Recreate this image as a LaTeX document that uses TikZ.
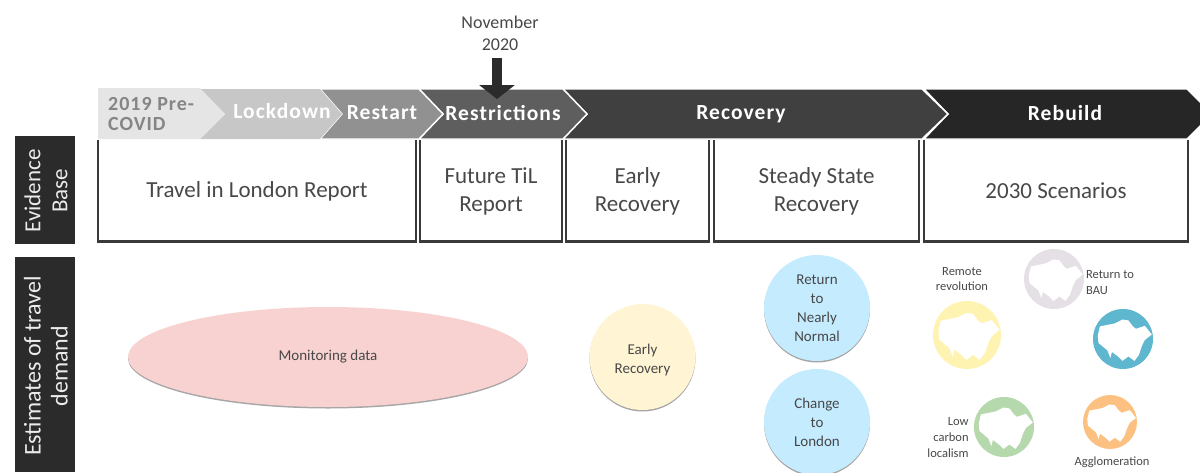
\documentclass[tikz,border=0pt]{standalone}
\usepackage{fontspec}
\setmainfont{Carlito}
\newfontfamily\chevfont[LetterSpace=5]{Carlito}
\usetikzlibrary{shapes.geometric,shadows,arrows.meta}
\definecolor{ink}{HTML}{3A3A3A}
\definecolor{soft}{HTML}{484848}
\definecolor{panel}{HTML}{2B2B2B}
\tikzset{
  x=1pt,y=-1pt,
  chev/.style={draw=white,line width=1.4pt,line join=miter},
  chevtext/.style={font=\chevfont\bfseries\fontsize{21.5}{22}\selectfont,text=white,inner sep=0pt},
  boxlabel/.style={font=\fontsize{23}{28}\selectfont,text=soft,align=center,inner sep=0pt},
  boxline/.style={draw=ink,line width=2.4pt,line cap=butt,line join=miter},
  sidepanel/.style={fill=panel,draw=none,inner sep=0pt},
  sidetext/.style={text=white!92!black,align=center,rotate=90,inner sep=0pt},
  softshadow/.style={general shadow={fill=black!35,shadow xshift=0pt,shadow yshift=-1.5pt}},
  bubble/.style={circle,minimum size=106pt,inner sep=0pt,align=center,font=\fontsize{15}{19}\selectfont,text=soft,softshadow},
  disc/.style={circle,inner sep=0pt},
  small/.style={font=\fontsize{12.5}{15.7}\selectfont,text=soft,inner sep=0pt},
}
\newcommand{\london}[3]{% centre x, centre y, radius
  \fill[white,shift={(#1,#2)},scale=#3]
   (-.77,-.42)--(-.52,-.47)--(-.27,-.52)--(-.02,-.65)--(.18,-.62)--(.33,-.42)--(.43,-.34)--(.73,-.44)--(.96,-.15)
   --(.73,.03)--(.63,.23)--(.53,.53)--(.38,.73)--(.18,.58)--(-.02,.73)--(-.17,.58)--(-.37,.43)--(-.42,.63)--(-.52,.38)--(-.82,.13)--(-.84,-.12)--cycle;
}
\begin{document}
\begin{tikzpicture}
\useasboundingbox (0,0) rectangle (1200,472);
\clip (0,0) rectangle (1200,472);
% chevrons
\path[chev,fill=black!85] (924,89)--(1187,89)--(1212,114)--(1187,139)--(924,139)--(948,114)--cycle;
\path[chev,fill=black!75] (563,89)--(922,89)--(948,114)--(922,139)--(563,139)--(587,114)--cycle;
\path[chev,fill=black!63] (419,89)--(563,89)--(587,114)--(563,139)--(419,139)--(443,114)--cycle;
\path[chev,fill=black!43] (320,89)--(419,89)--(443,114)--(419,139)--(320,139)--(342,114)--cycle;
\path[fill=black!22] (200,89)--(320,89)--(342,114)--(320,139)--(200,139)--(225,114)--cycle;
\path[fill=black!10] (98,88)--(200,88)--(225,114)--(200,139)--(98,139)--cycle;
\node[font=\chevfont\bfseries\fontsize{20}{20}\selectfont,text=black!48,inner sep=0pt,anchor=base west] (pre) at (108,110) {2019 Pre-};
\node[font=\chevfont\bfseries\fontsize{20}{20}\selectfont,text=black!48,inner sep=0pt,anchor=base west] (pre2) at (108,130) {COVID};
\node[chevtext,anchor=base] (lock) at (282,118) {Lockdown};
\node[chevtext,anchor=base] (restart) at (382,119) {Restart};
\node[chevtext,anchor=base] (restr) at (503,120) {Restrictions};
\node[chevtext,anchor=base] (recov) at (741,119) {Recovery};
\node[chevtext,anchor=base] (rebuild) at (1065,120) {Rebuild};
% November marker
\node[font=\fontsize{18}{22}\selectfont,text=soft,align=center,inner sep=0pt,anchor=south] (nov) at (500,50.5) {November\\2020};
\coordinate (arrowstart) at (497,58);
\coordinate (arrowtip) at (497,99);
\draw[line width=10.5pt,draw=panel,-{Triangle[width=35pt,length=14pt]}] (arrowstart) -- (arrowtip);
% evidence boxes
\foreach \nm/\xa/\xb/\txt in {til/98/416/{Travel in London Report},ftil/420/562/{Future TiL\\Report},early/566/709/{Early\\Recovery},steady/714/919/{Steady State\\Recovery},scen/924/1188/{2030 Scenarios}}{
  \node[boxlabel] (\nm) at ({(\xa+\xb)/2},191) {\txt};
  \draw[boxline] (\xa,140)--(\xa,241.5)--(\xb,241.5)--(\xb,140);
}
% side panels
\node[sidepanel,minimum width=60pt,minimum height=108pt] (evp) at (45,190) {};
\node[sidetext,font=\fontsize{23}{27}\selectfont] (evt) at (46,191) {Evidence\\Base};
\node[sidepanel,minimum width=60pt,minimum height=215pt] (estp) at (45,364.5) {};
\node[sidetext,font=\fontsize{24}{27}\selectfont] (estt) at (46,366) {Estimates of travel\\demand};
% bubbles
\node[ellipse,minimum width=400pt,minimum height=100pt,inner sep=0pt,fill={rgb,255:red,248;green,210;blue,208},font=\fontsize{15}{19}\selectfont,text=soft,softshadow] (mon) at (328,357) {Monitoring data};
\node[bubble,fill={rgb,255:red,255;green,245;blue,212},text depth=0pt] (erb) at (642.5,357) {\strut\vphantom{y}Early\\Recovery};
\node[bubble,fill={rgb,255:red,197;green,235;blue,255}] (rnn) at (817,308) {Return\\to\\Nearly\\Normal};
\node[bubble,fill={rgb,255:red,197;green,235;blue,255}] (ctl) at (817,422) {Change\\to\\London};
% scenario discs
\node[disc,minimum size=60pt,fill={rgb,255:red,229;green,224;blue,229}] (bau) at (1054,279) {};
\london{1054}{279}{30}
\node[disc,minimum size=60pt,fill={rgb,255:red,94;green,182;blue,207}] (blue) at (1123,339) {};
\london{1123}{339}{30}
\node[disc,minimum size=68pt,fill={rgb,255:red,255;green,243;blue,178}] (rem) at (967,335) {};
\london{967}{335}{34}
\node[disc,minimum size=60pt,fill={rgb,255:red,182;green,216;blue,173}] (low) at (1004,427) {};
\london{1004}{427}{30}
\node[disc,minimum size=54pt,fill={rgb,255:red,252;green,192;blue,128}] (agg) at (1110,422) {};
\london{1110}{422}{27}
\node[small,align=center] (remt) at (962,279) {Remote\\revolution};
\node[small,align=left] (baut) at (1110,282.5) {Return to\\BAU};
\node[small,align=right] (lowt) at (948,437.5) {Low\\carbon\\localism};
\node[small] (aggt) at (1112,462) {Agglomeration};
\end{tikzpicture}
\end{document}
